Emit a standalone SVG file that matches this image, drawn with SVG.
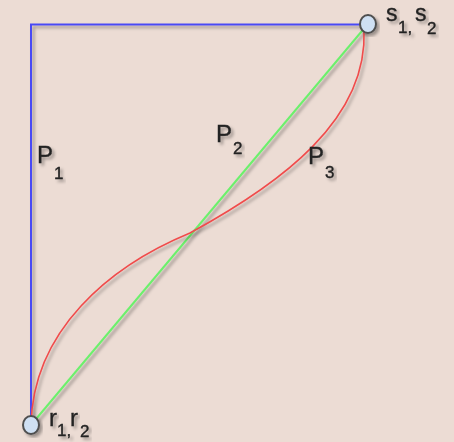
<svg xmlns="http://www.w3.org/2000/svg" width="454" height="442" viewBox="0 0 454 442">
  <defs>
    <filter id="sh" x="-20%" y="-20%" width="140%" height="140%">
      <feDropShadow dx="2.5" dy="2.5" stdDeviation="1.6" flood-color="#000" flood-opacity="0.35"/>
    </filter>
    <style>
      .ln { fill: none; stroke-width: 2; filter: url(#sh); }
      .blue { stroke: #4a4af5; }
      .green { stroke: #6cf06c; }
      .red { stroke: #f04c4c; stroke-width: 1.6; }
      .node { fill: #cfe0f3; stroke: #505050; stroke-width: 2; filter: url(#sh); }
      .t { font-family: "Liberation Sans", Arial, sans-serif; fill: #222; stroke: #222; stroke-width: 0.35; filter: url(#sh); }
      .big { font-size: 24px; }
      .sub { font-size: 17px; }
      .sb { font-size: 23px; }
    </style>
  </defs>
  <rect x="0" y="0" width="454" height="442" fill="#ecdcd4"/>
  <g id="connectors">
    <path id="P1" class="ln blue" d="M31,425 L31,24.5 L367,24.5"/>
    <path id="P2" class="ln green" d="M31,425 L367,25"/>
    <path id="P3" class="ln red" d="M31,425 C33,330 110,266 190,233 C280,184 368,120 364,30"/>
  </g>
  <g id="node-s">
    <ellipse class="node" cx="368" cy="24" rx="8" ry="9"/>
    <text class="t sb" x="386" y="21">s</text>
    <text class="t sub" x="398" y="33">1,</text>
    <text class="t sb" x="415" y="21">s</text>
    <text class="t sub" x="427" y="34">2</text>
  </g>
  <g id="node-r">
    <ellipse class="node" cx="31" cy="425" rx="8" ry="9"/>
    <text class="t big" x="49" y="426">r</text>
    <text class="t sub" x="57" y="436">1,</text>
    <text class="t big" x="70" y="426">r</text>
    <text class="t sub" x="80" y="437">2</text>
  </g>
  <g id="labels">
    <text class="t big" x="37" y="163">P</text>
    <text class="t sub" x="54" y="179">1</text>
    <text class="t big" x="216" y="142">P</text>
    <text class="t sub" x="233" y="154">2</text>
    <text class="t big" x="308" y="164">P</text>
    <text class="t sub" x="325" y="178">3</text>
  </g>
</svg>
